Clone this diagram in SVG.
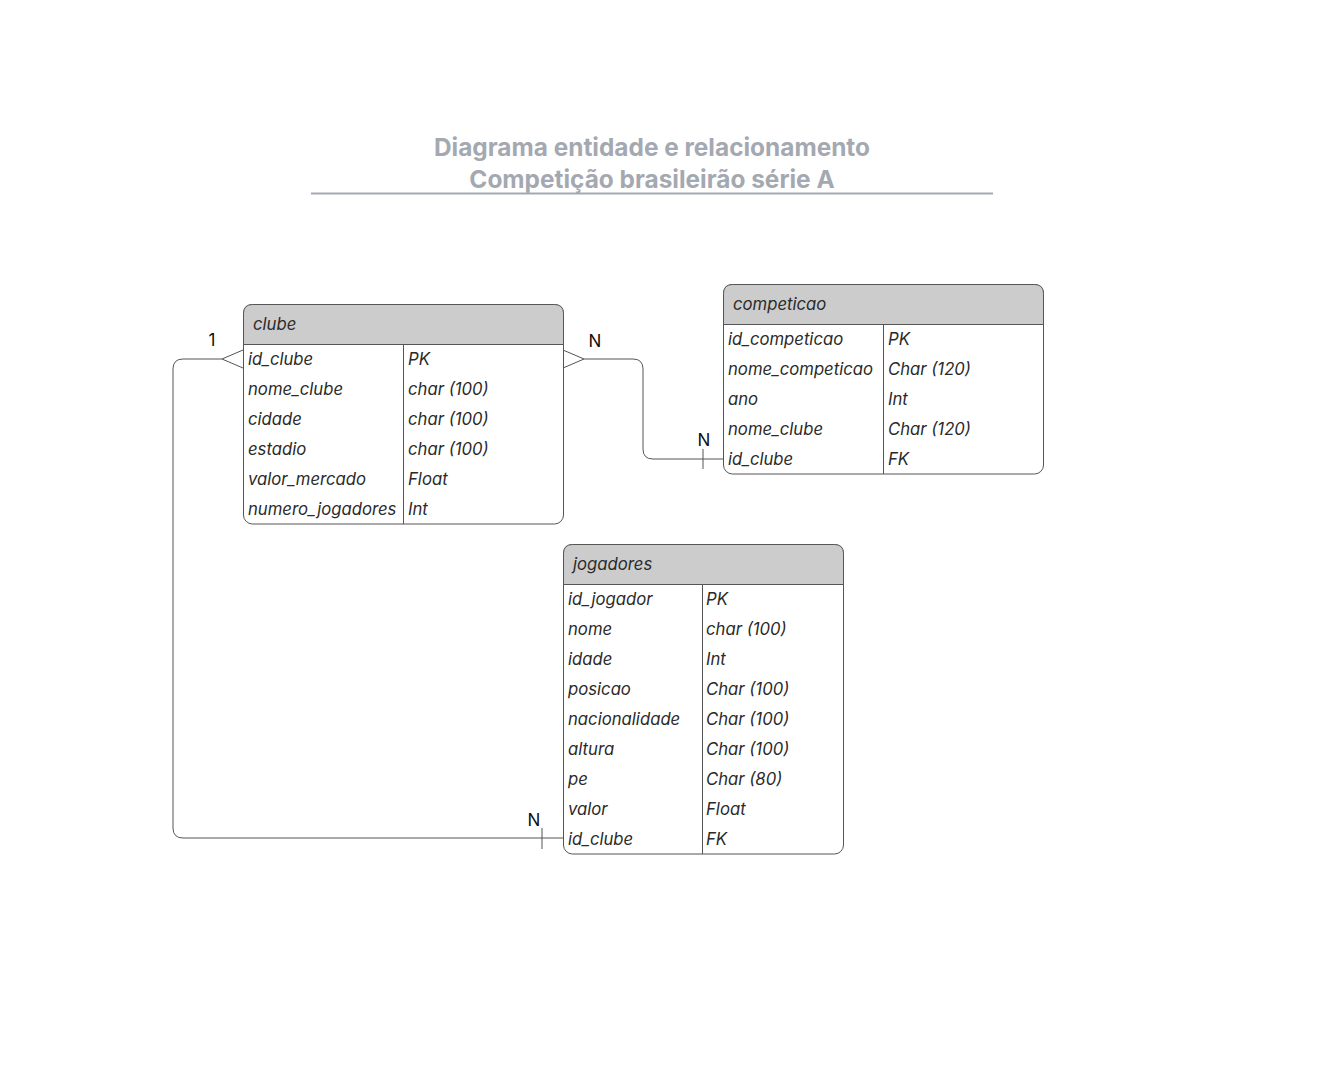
<svg xmlns="http://www.w3.org/2000/svg" width="1333" height="1081" viewBox="0 0 1333 1081">
<style>
.title{font-family:Inter,"Liberation Sans",sans-serif;font-weight:bold;font-size:24.4px;fill:#a4a9b1;text-anchor:middle}
.t{font-family:Inter,"Liberation Sans",sans-serif;font-style:italic;font-size:16.7px;fill:#2a2a2a}
.box{fill:#ffffff;stroke:#555;stroke-width:1}
.hdr{fill:#cccccc;stroke:#555;stroke-width:1}
.ln{fill:none;stroke:#555;stroke-width:1}
.lbl{font-family:Inter,"Liberation Sans",sans-serif;font-size:17px;fill:#111;text-anchor:middle}
</style>
<rect width="1333" height="1081" fill="#ffffff"/>
<g id="title">
<text class="title" x="652" y="156">Diagrama entidade e relacionamento</text>
<text class="title" x="652" y="188">Competição brasileirão série A</text>
<line x1="311" y1="193.5" x2="993" y2="193.5" stroke="#a4a9b1" stroke-width="2"/>
</g>
<g id="connectors">
<path class="ln" d="M222,359 H183 Q173,359 173,369 V828 Q173,838 183,838 H563"/>
<path class="ln" d="M243,350 L222,359 L243,368"/>
<line class="ln" x1="542" y1="828" x2="542" y2="849"/>
<path class="ln" d="M584,359 H633 Q643,359 643,369 V449 Q643,459 653,459 H723"/>
<path class="ln" d="M563,350 L584,359 L563,368"/>
<line class="ln" x1="703" y1="449" x2="703" y2="469"/>
<text class="lbl" x="212" y="346">1</text>
<text class="lbl" x="595" y="347">N</text>
<text class="lbl" x="704" y="446">N</text>
<text class="lbl" x="534" y="826">N</text>
</g>
<g id="clube">
<rect class="box" x="243.5" y="304.5" width="320" height="219.5" rx="9"/>
<path class="hdr" d="M243.5,344.5 V313.5 Q243.5,304.5 252.5,304.5 H554.5 Q563.5,304.5 563.5,313.5 V344.5 Z"/>
<line class="ln" x1="403.5" y1="344.5" x2="403.5" y2="524"/>
<text class="t" x="253" y="330">clube</text>
<text class="t" x="248" y="365">id_clube</text><text class="t" x="408" y="365">PK</text>
<text class="t" x="248" y="395">nome_clube</text><text class="t" x="408" y="395">char (100)</text>
<text class="t" x="248" y="425">cidade</text><text class="t" x="408" y="425">char (100)</text>
<text class="t" x="248" y="455">estadio</text><text class="t" x="408" y="455">char (100)</text>
<text class="t" x="248" y="485">valor_mercado</text><text class="t" x="408" y="485">Float</text>
<text class="t" x="248" y="515">numero_jogadores</text><text class="t" x="408" y="515">Int</text>
</g>
<g id="competicao">
<rect class="box" x="723.5" y="284.5" width="320" height="189.5" rx="9"/>
<path class="hdr" d="M723.5,324.5 V293.5 Q723.5,284.5 732.5,284.5 H1034.5 Q1043.5,284.5 1043.5,293.5 V324.5 Z"/>
<line class="ln" x1="883.5" y1="324.5" x2="883.5" y2="474"/>
<text class="t" x="733" y="310">competicao</text>
<text class="t" x="728" y="345">id_competicao</text><text class="t" x="888" y="345">PK</text>
<text class="t" x="728" y="375">nome_competicao</text><text class="t" x="888" y="375">Char (120)</text>
<text class="t" x="728" y="405">ano</text><text class="t" x="888" y="405">Int</text>
<text class="t" x="728" y="435">nome_clube</text><text class="t" x="888" y="435">Char (120)</text>
<text class="t" x="728" y="465">id_clube</text><text class="t" x="888" y="465">FK</text>
</g>
<g id="jogadores">
<rect class="box" x="563.5" y="544.5" width="280" height="309.5" rx="9"/>
<path class="hdr" d="M563.5,584.5 V553.5 Q563.5,544.5 572.5,544.5 H834.5 Q843.5,544.5 843.5,553.5 V584.5 Z"/>
<line class="ln" x1="702.5" y1="584.5" x2="702.5" y2="854"/>
<text class="t" x="573" y="570">jogadores</text>
<text class="t" x="568" y="605">id_jogador</text><text class="t" x="706" y="605">PK</text>
<text class="t" x="568" y="635">nome</text><text class="t" x="706" y="635">char (100)</text>
<text class="t" x="568" y="665">idade</text><text class="t" x="706" y="665">Int</text>
<text class="t" x="568" y="695">posicao</text><text class="t" x="706" y="695">Char (100)</text>
<text class="t" x="568" y="725">nacionalidade</text><text class="t" x="706" y="725">Char (100)</text>
<text class="t" x="568" y="755">altura</text><text class="t" x="706" y="755">Char (100)</text>
<text class="t" x="568" y="785">pe</text><text class="t" x="706" y="785">Char (80)</text>
<text class="t" x="568" y="815">valor</text><text class="t" x="706" y="815">Float</text>
<text class="t" x="568" y="845">id_clube</text><text class="t" x="706" y="845">FK</text>
</g>
</svg>
